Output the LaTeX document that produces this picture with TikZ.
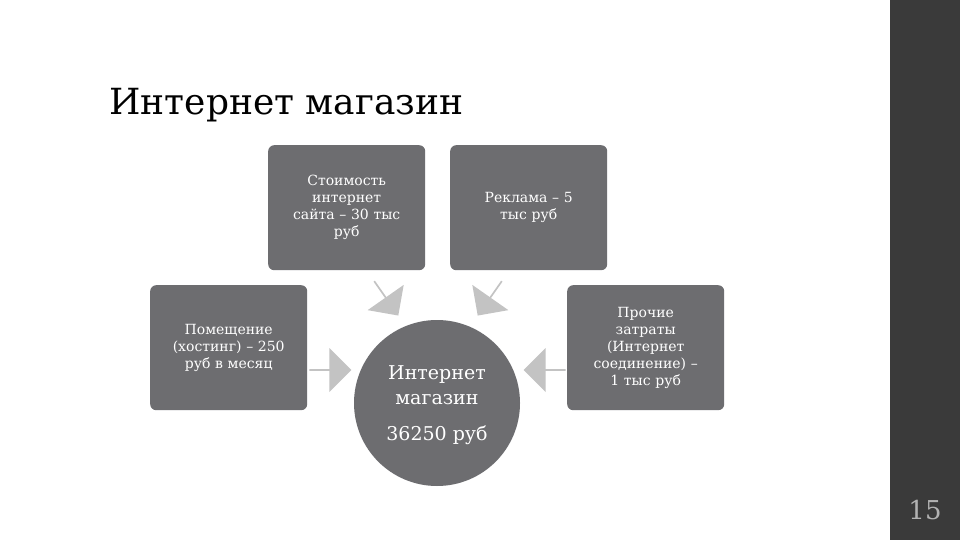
\documentclass[tikz,border=0pt]{standalone}
\usepackage{fontspec}
\setmainfont{DejaVu Serif}
\usetikzlibrary{shapes.arrows}
\definecolor{boxg}{HTML}{6D6D70}
\definecolor{arrg}{HTML}{C3C3C3}
\definecolor{barg}{HTML}{3A3A3A}
\begin{document}
\begin{tikzpicture}[x=1pt,y=-1pt,
  box/.style={fill=boxg,rounded corners=6pt,minimum width=157pt,minimum height=125pt,text=white,align=center,font=\fontsize{14}{17}\selectfont,inner sep=2pt,text width=150pt},
  barrow/.style={single arrow,fill=arrg,minimum height=42pt,minimum width=44pt,single arrow head extend=5pt,inner sep=0pt}]
\useasboundingbox (0,0) rectangle (960,540);
\fill[white] (0,0) rectangle (960,540);
\fill[barg] (890,0) rectangle (960,540);
\node[text=gray!60,font=\fontsize{26}{28}\selectfont] (pg) at (925,510) {15};
\node[anchor=west,font=\fontsize{36}{40}\selectfont] (t) at (106,105) {Интернет магазин};
\node[box,anchor=north west] (b1) at (268,145) {\raisebox{0pt}{}Стоимость\\интернет\\сайта – 30 тыс\\руб\\[6pt]};
\node[box,anchor=north west] (b2) at (450,145) {Реклама – 5\\тыс руб\\[18pt]};
\node[box,anchor=north west] (b3) at (150,285) {Помещение\\(хостинг) – 250\\руб в месяц\\[12pt]};
\node[box,anchor=north west] (b4) at (567,285) {Прочие\\затраты\\(Интернет\\соединение) –\\1 тыс руб};
\node[circle,fill=boxg,minimum size=166pt,inner sep=0pt] (c) at (437,403) {};
\node[text=white,align=center,font=\fontsize{19}{25}\selectfont] (ct) at (437,385) {Интернет\\магазин};
\node[text=white,font=\fontsize{19}{22}\selectfont] (cs) at (437,435) {36250 руб};
\node[barrow,rotate=-55] (a1) at (386,298) {};
\node[barrow,rotate=-125] (a2) at (490,298) {};
\node[barrow] (a3) at (330,370) {};
\node[barrow,rotate=180] (a4) at (545,370) {};
\end{tikzpicture}
\end{document}
